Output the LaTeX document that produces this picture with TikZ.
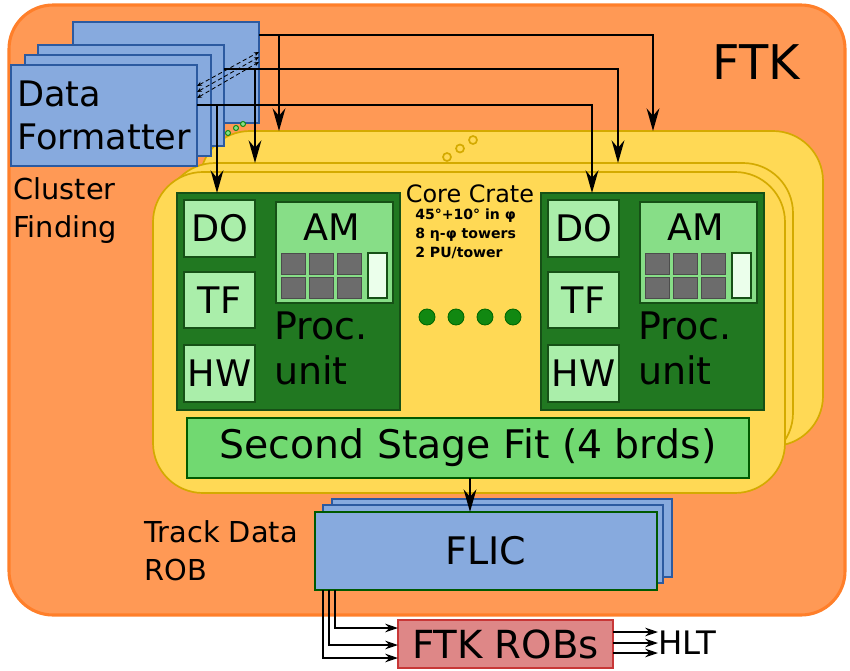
\documentclass[tikz,border=0pt]{standalone}
\usepackage{fontspec}
\setmainfont{DejaVu Sans}
\usetikzlibrary{arrows.meta}
\newcommand{\pxu}{0.025cm}
\definecolor{ftkfill}{HTML}{FF9955}
\definecolor{ftkline}{HTML}{FF7F2A}
\definecolor{cratefill}{HTML}{FFD955}
\definecolor{crateline}{HTML}{D4AA00}
\definecolor{dffill}{HTML}{87AADE}
\definecolor{dfline}{HTML}{2C5AA0}
\definecolor{pufill}{HTML}{217821}
\definecolor{puline}{HTML}{165016}
\definecolor{cardfill}{HTML}{AAEEAA}
\definecolor{amfill}{HTML}{87DE87}
\definecolor{ssffill}{HTML}{71D971}
\definecolor{robfill}{HTML}{DE8787}
\definecolor{robline}{HTML}{C83737}
\definecolor{chipfill}{HTML}{6C6C6C}
\definecolor{dotfill}{HTML}{118811}
\begin{document}
\begin{tikzpicture}[x=0.025cm, y=-0.025cm,
    box/.style = {anchor=north west, inner sep=0pt, outer sep=0pt},
    board/.style = {box, draw=dfline, fill=dffill, line width=1.5pt, minimum width=186*\pxu, minimum height=101*\pxu},
    crate/.style = {box, draw=crateline, fill=cratefill, line width=1.2pt, rounded corners=1.25cm},
    unit/.style = {box, draw=puline, fill=pufill, line width=1pt, minimum width=223*\pxu, minimum height=217*\pxu},
    card/.style = {box, draw=puline, fill=cardfill, line width=0.8pt, minimum width=71*\pxu, font=\fontsize{26}{30}\selectfont},
    chip/.style = {box, draw=black!70, fill=chipfill, line width=0.6pt, minimum width=24*\pxu, minimum height=21*\pxu},
    flic/.style = {box, draw=dfline, fill=dffill, line width=1.2pt, minimum width=340*\pxu, minimum height=78*\pxu},
    ring/.style = {circle, draw=crateline, fill=cratefill, line width=1.2pt, inner sep=0pt, minimum size=8*\pxu},
    bead/.style = {circle, draw=dotfill, fill=amfill, line width=0.7pt, inner sep=0pt, minimum size=5*\pxu},
    dot/.style = {circle, draw=green!40!black, fill=dotfill, line width=0.6pt, inner sep=0pt, minimum size=16*\pxu},
    bus/.style = {line width=2.1pt, -{Stealth[length=16pt, width=9pt]}},
    thinbus/.style = {line width=1.4pt, -{Stealth[length=9pt, width=6pt]}},
    link/.style = {densely dashed, line width=0.6pt, {Stealth[length=3.5pt, width=3pt]}-{Stealth[length=3.5pt, width=3pt]}},
    big/.style = {font=\fontsize{27}{32}\selectfont},
    mid/.style = {font=\fontsize{20.5}{27}\selectfont}]

  \useasboundingbox (0,0) rectangle (850,671);

  \node[box, draw=ftkline, fill=ftkfill, line width=2.2pt, rounded corners=1.1cm, minimum width=836*\pxu, minimum height=610*\pxu] (FTK) at (9,5) {};
  \node[font=\fontsize{34}{40}\selectfont] (FTK_label) at (756,62) {FTK};

  \node[crate, minimum width=623*\pxu, minimum height=315*\pxu] (Crate_2) at (200,131) {};
  \node[crate, minimum width=628*\pxu, minimum height=300*\pxu] (Crate_1) at (165,163) {};
  \node[crate, minimum width=632*\pxu, minimum height=321*\pxu] (Crate_0) at (153,172) {};

  \foreach \i/\x in {0/447, 1/460, 2/473}
    \node[ring] (R_\i) at (\x, 157-\i*8.5) {};

  \foreach \n/\x/\y in {3/73/22, 2/38/45, 1/25/55}
    \node[board] (DF_\n) at (\x,\y) {};
  \node[board, align=left, font=\fontsize{25}{30}\selectfont] (DF_0) at (11,65) {Data\\Formatter};

  \foreach \i/\x/\y in {0/228/133, 1/236/128, 2/243/124}
    \node[bead] (B_\i) at (\x,\y) {};

  \draw[link] (DF_0.east |- 0,98) -- (DF_3.east |- 0,62);
  \draw[link] (DF_0.east |- 0,92) -- (DF_3.east |- 0,57);
  \draw[link] (DF_0.east |- 0,86) -- (DF_3.east |- 0,52);

  \node[mid, align=left, anchor=west, inner sep=0pt] (CF) at (13,211) {Cluster\\Finding};

  \foreach \s/\x in {L/0, R/364} {
    \node[unit] (PU_\s) at (177+\x,193) {};
    \node[card, minimum height=57*\pxu] (DO_\s) at (184+\x,200) {DO};
    \node[card, minimum height=56*\pxu] (TF_\s) at (184+\x,272) {TF};
    \node[card, minimum height=57*\pxu] (HW_\s) at (184+\x,345) {HW};
    \node[box, draw=puline, fill=amfill, line width=0.8pt, minimum width=117*\pxu, minimum height=101*\pxu] (AM_\s) at (276+\x,202) {};
    \node[font=\fontsize{26}{30}\selectfont, anchor=base] (AMt_\s) at (332+\x,240) {AM};
    \foreach \r in {0,1}
      \foreach \c in {0,1,2}
        \node[chip] (C_\s_\r_\c) at (281+\x+28*\c, 253+24*\r) {};
    \node[box, draw=puline, fill=green!8, line width=0.8pt, minimum width=19*\pxu, minimum height=45*\pxu] (Bar_\s) at (368+\x,253) {};
    \node[big, align=left, anchor=north west, inner sep=0pt] (PT_\s) at (274+\x,312) {Proc.\\unit};
  }

  \node[anchor=base, font=\fontsize{17}{20}\selectfont] (CC) at (470,202) {Core Crate};
  \node[anchor=north west, align=left, inner sep=0pt, font=\fontsize{10}{13.5}\selectfont\bfseries] (CCinfo) at (415,209) {45°+10° in φ\\8 η-φ towers\\2 PU/tower};

  \foreach \i/\x in {0/427, 1/456, 2/485, 3/513}
    \node[dot] (D_\i) at (\x,317) {};

  \node[box, draw=green!35!black, fill=ssffill, line width=1pt, minimum width=562*\pxu, minimum height=60*\pxu, font=\fontsize{28}{32}\selectfont] (SSF) at (187,418) {Second Stage Fit (4 brds)};

  \node[flic] (FLIC_2) at (332,499) {};
  \node[flic] (FLIC_1) at (323,505) {};
  \node[flic, draw=green!35!black, minimum width=342*\pxu, font=\fontsize{27}{30}\selectfont] (FLIC_0) at (315,512) {FLIC};

  \node[mid, align=left, anchor=west, inner sep=0pt] (TD) at (144,551) {Track Data\\ROB};

  \node[box, draw=robline, fill=robfill, line width=1.8pt, minimum width=215*\pxu, minimum height=48*\pxu, font=\fontsize{27.5}{30}\selectfont] (ROB) at (398,620) {FTK ROBs};
  \node[anchor=west, inner sep=0pt, font=\fontsize{23}{26}\selectfont] (HLT) at (658,643) {HLT};

  \draw[bus] (DF_3.east |- 0,35) -| (279,0 |- Crate_2.north);
  \draw[bus] (DF_3.east |- 0,35) -| (653,0 |- Crate_2.north);
  \draw[bus] (DF_2.east |- 0,69) -| (255,0 |- Crate_1.north);
  \draw[bus] (DF_2.east |- 0,69) -| (618,0 |- Crate_1.north);
  \draw[bus] (DF_0.east |- 0,105) -| (217,0 |- PU_L.north);
  \draw[bus] (DF_0.east |- 0,105) -| (592,0 |- PU_R.north);

  \draw[bus] (470,0 |- SSF.south) -- (470,0 |- FLIC_0.north);

  \draw[thinbus] (323,0 |- FLIC_0.south) |- (ROB.west |- 0,658);
  \draw[thinbus] (329,0 |- FLIC_0.south) |- (ROB.west |- 0,645);
  \draw[thinbus] (335,0 |- FLIC_0.south) |- (ROB.west |- 0,628);

  \foreach \y in {632, 643, 653}
    \draw[thinbus] (ROB.east |- 0,\y) -- (HLT.west |- 0,\y);

\end{tikzpicture}
\end{document}
